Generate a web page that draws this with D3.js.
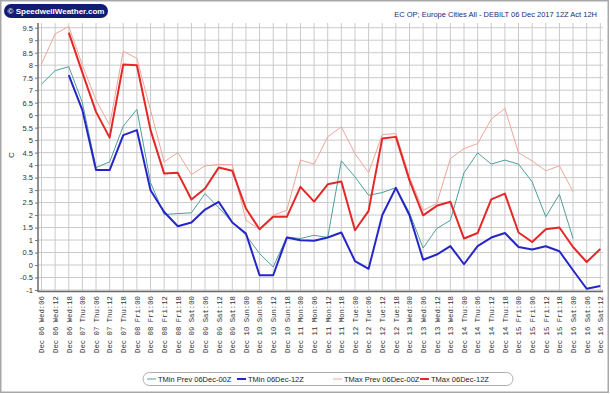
<!DOCTYPE html>
<html>
<head>
<meta charset="utf-8">
<script src="https://cdn.jsdelivr.net/npm/d3@7"></script>
<style>
  body { margin: 0; background: #fff; }
  svg { display: block; }
</style>
</head>
<body>
<div id="chart"></div>
<script>
// Forecast steps (6-hourly)
const steps = [
  'Dec 06 Wed:06', 'Dec 06 Wed:12', 'Dec 06 Wed:18',
  'Dec 07 Thu:00', 'Dec 07 Thu:06', 'Dec 07 Thu:12', 'Dec 07 Thu:18',
  'Dec 08 Fri:00', 'Dec 08 Fri:06', 'Dec 08 Fri:12', 'Dec 08 Fri:18',
  'Dec 09 Sat:00', 'Dec 09 Sat:06', 'Dec 09 Sat:12', 'Dec 09 Sat:18',
  'Dec 10 Sun:00', 'Dec 10 Sun:06', 'Dec 10 Sun:12', 'Dec 10 Sun:18',
  'Dec 11 Mon:00', 'Dec 11 Mon:06', 'Dec 11 Mon:12', 'Dec 11 Mon:18',
  'Dec 12 Tue:00', 'Dec 12 Tue:06', 'Dec 12 Tue:12', 'Dec 12 Tue:18',
  'Dec 13 Wed:00', 'Dec 13 Wed:06', 'Dec 13 Wed:12', 'Dec 13 Wed:18',
  'Dec 14 Thu:00', 'Dec 14 Thu:06', 'Dec 14 Thu:12', 'Dec 14 Thu:18',
  'Dec 15 Fri:00', 'Dec 15 Fri:06', 'Dec 15 Fri:12', 'Dec 15 Fri:18',
  'Dec 16 Sat:00', 'Dec 16 Sat:06', 'Dec 16 Sat:12'
];

const yTicks = [9.5, 9, 8.5, 8, 7.5, 7, 6.5, 6, 5.5, 5, 4.5, 4, 3.5, 3, 2.5, 2, 1.5, 1, 0.5, 0, -0.5, -1];

// previous run (00Z) covers Wed:06 .. Sat:00
const tminPrev = [7.24, 7.78, 7.94, 6.5, 3.9, 4.13, 5.56, 6.23, 3.3, 2.02, 2.06, 2.09, 2.86, 2.3, 1.72,
  1.19, 0.46, -0.08, 1.12, 1.06, 1.19, 1.1, 4.17, 3.53, 2.79, 2.9, 3.1, 2.09, 0.68, 1.46, 1.79,
  3.69, 4.49, 4.04, 4.2, 4.04, 3.33, 1.93, 2.83, 1.06];
const tmaxPrev = [8.05, 9.25, 9.55, 8.0, 6.6, 5.6, 8.56, 8.27, 6.2, 4.13, 4.5, 3.62, 3.97, 4.02, 4.02,
  1.79, 1.43, 1.99, 2.19, 4.2, 4.04, 5.13, 5.53, 4.46, 3.69, 5.22, 5.26, 3.53, 2.19, 2.46, 4.26,
  4.66, 4.86, 5.84, 6.27, 4.49, 4.17, 3.77, 3.97, 2.93];

// latest run (12Z) covers Wed:18 .. Sat:12
const tminNew = [7.6, 6.2, 3.8, 3.8, 5.2, 5.4, 2.99, 2.12, 1.55, 1.7, 2.22, 2.53, 1.7, 1.26,
  -0.41, -0.41, 1.1, 0.99, 0.97, 1.1, 1.3, 0.16, -0.15, 1.99, 3.09, 1.99, 0.21, 0.42, 0.76,
  0.03, 0.76, 1.1, 1.28, 0.72, 0.62, 0.75, 0.55, -0.21, -0.95, -0.84];
const tmaxNew = [9.3, 7.7, 6.13, 5.1, 8.03, 8.0, 5.4, 3.66, 3.69, 2.62, 3.06, 3.9, 3.77, 2.26,
  1.43, 1.93, 1.93, 3.13, 2.54, 3.23, 3.34, 1.39, 2.17, 5.06, 5.13, 3.39, 1.99, 2.37, 2.53,
  1.06, 1.28, 2.63, 2.86, 1.3, 0.92, 1.43, 1.5, 0.72, 0.12, 0.64];

const seriesNames = ['TMin Prev 06Dec-00Z', 'TMin 06Dec-12Z', 'TMax Prev 06Dec-00Z', 'TMax 06Dec-12Z'];

const width = 610, height = 394;

const svg = d3.select('#chart').append('svg')
  .attr('width', width)
  .attr('height', height);

// outer frame
svg.append('rect')
  .attr('x', 0.75).attr('y', 0.75)
  .attr('width', 607.5).attr('height', 391.5)
  .attr('fill', '#fff')
  .attr('stroke', '#a8a8a8')
  .attr('stroke-width', 1.5);

// scales
const x = d3.scalePoint()
  .domain(steps)
  .range([41.5, 600.3]);

const y = d3.scaleLinear()
  .domain([-1, 9.5])
  .range([290, 27.7]);

const plotLeft = 38, plotRight = 603, plotTop = 23, plotBottom = 291;

// grid
const grid = svg.append('g').attr('class', 'grid');
grid.selectAll('.vgrid')
  .data(steps)
  .join('line')
  .attr('x1', d => x(d)).attr('x2', d => x(d))
  .attr('y1', plotTop).attr('y2', plotBottom)
  .attr('stroke', '#cacaca')
  .attr('stroke-width', 1);
grid.selectAll('.hgrid')
  .data(yTicks)
  .join('line')
  .attr('x1', plotLeft).attr('x2', plotRight)
  .attr('y1', d => y(d)).attr('y2', d => y(d))
  .attr('stroke', '#cacaca')
  .attr('stroke-width', 1);

// y axis
const yAxis = d3.axisLeft(y)
  .tickValues(yTicks)
  .tickFormat(d => d)
  .tickSize(3)
  .tickPadding(2);
const yAxisG = svg.append('g')
  .attr('transform', `translate(${plotLeft},0)`)
  .call(yAxis);
yAxisG.select('.domain').remove();
yAxisG.selectAll('.tick line').attr('stroke', '#777');
yAxisG.selectAll('text')
  .attr('fill', '#333')
  .attr('font-family', 'Liberation Sans, Arial, sans-serif')
  .attr('font-size', 7.5);

svg.append('line')
  .attr('x1', plotLeft).attr('x2', plotLeft)
  .attr('y1', plotTop).attr('y2', plotBottom + 1)
  .attr('stroke', '#6a6a6a').attr('stroke-width', 1.5);
svg.append('line')
  .attr('x1', plotLeft).attr('x2', plotRight)
  .attr('y1', plotBottom + 0.5).attr('y2', plotBottom + 0.5)
  .attr('stroke', '#6a6a6a').attr('stroke-width', 1.5);

// y title
svg.append('text')
  .attr('transform', 'translate(14,155) rotate(-90)')
  .attr('text-anchor', 'middle')
  .attr('font-family', 'Liberation Sans, Arial, sans-serif')
  .attr('font-size', 8)
  .attr('fill', '#333')
  .text('C');

// x labels, vertical
const xAxis = d3.axisBottom(x).tickSize(0).tickPadding(0);
const xAxisG = svg.append('g')
  .attr('transform', `translate(0,${plotBottom})`)
  .call(xAxis);
xAxisG.select('.domain').remove();
xAxisG.selectAll('text')
  .attr('transform', 'rotate(-90)')
  .attr('text-anchor', 'end')
  .attr('x', -5)
  .attr('y', 0)
  .attr('dy', '0.32em')
  .attr('fill', '#333')
  .attr('font-family', 'Liberation Mono, Courier New, monospace')
  .attr('font-size', 7.3);

// series lines
const line = d3.line()
  .x(d => x(d.step))
  .y(d => y(d.value));

const toPoints = (vals, offset) => vals.map((v, i) => ({ step: steps[i + offset], value: v }));

const series = [
  { name: seriesNames[2], pts: toPoints(tmaxPrev, 0), color: '#f0a598', w: 1 },
  { name: seriesNames[0], pts: toPoints(tminPrev, 0), color: '#4f9e9a', w: 1 },
  { name: seriesNames[1], pts: toPoints(tminNew, 2), color: '#2626c8', w: 2 },
  { name: seriesNames[3], pts: toPoints(tmaxNew, 2), color: '#e42828', w: 2 }
];

svg.append('g')
  .selectAll('path')
  .data(series)
  .join('path')
  .attr('d', d => line(d.pts))
  .attr('fill', 'none')
  .attr('stroke', d => d.color)
  .attr('stroke-width', d => d.w)
  .attr('stroke-linejoin', 'round');

// header: logo pill
const logo = svg.append('g');
logo.append('rect')
  .attr('x', 4).attr('y', 4)
  .attr('width', 104).attr('height', 14)
  .attr('rx', 7)
  .attr('fill', '#121c72');
logo.append('text')
  .attr('x', 56).attr('y', 14)
  .attr('text-anchor', 'middle')
  .attr('fill', '#fff')
  .attr('font-family', 'Liberation Sans, Arial, sans-serif')
  .attr('font-weight', 'bold')
  .attr('font-size', 8)
  .text('\u00a9 SpeedwellWeather.com');

// title
svg.append('text')
  .attr('x', 597).attr('y', 17)
  .attr('text-anchor', 'end')
  .attr('fill', '#1b2a7a')
  .attr('font-family', 'Liberation Sans, Arial, sans-serif')
  .attr('font-size', 7.5)
  .text('EC OP; Europe Cities All - DEBILT 06 Dec 2017 12Z Act 12H');

// legend
const legendY = 379;
const legend = svg.append('g');
legend.append('rect')
  .attr('x', 143).attr('y', legendY - 6.5)
  .attr('width', 370).attr('height', 13)
  .attr('rx', 6.5)
  .attr('fill', '#fff')
  .attr('stroke', '#999')
  .attr('stroke-width', 0.8);

const legendItems = [
  { name: seriesNames[0], color: '#4f9e9a', w: 1, x: 147 },
  { name: seriesNames[1], color: '#2626c8', w: 2, x: 237 },
  { name: seriesNames[2], color: '#f0a598', w: 1, x: 333 },
  { name: seriesNames[3], color: '#e42828', w: 2, x: 420 }
];

const li = legend.selectAll('.item')
  .data(legendItems)
  .join('g')
  .attr('transform', d => `translate(${d.x},${legendY})`);
li.append('line')
  .attr('x1', 0).attr('x2', 9)
  .attr('stroke', d => d.color)
  .attr('stroke-width', d => d.w);
li.append('text')
  .attr('x', 11).attr('dy', '0.35em')
  .attr('fill', '#222')
  .attr('font-family', 'Liberation Sans, Arial, sans-serif')
  .attr('font-size', 7.5)
  .text(d => d.name);
</script>
</body>
</html>
